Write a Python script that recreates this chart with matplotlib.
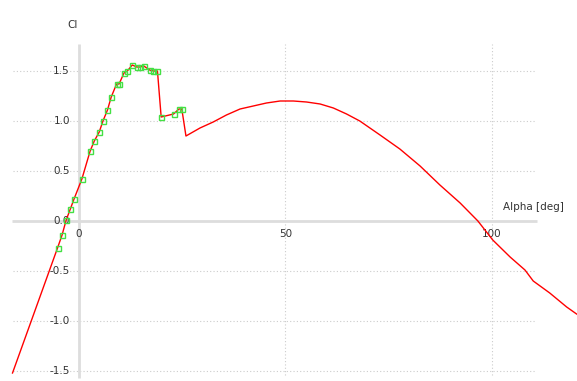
import numpy as np
import matplotlib
matplotlib.use("Agg")
from matplotlib import pyplot as plt

# polar points (measured)
alpha_pts = [-5.2, -4.1, -3.1, -2.1, -1.2, 0.7, 2.7, 3.7, 4.9, 5.8, 6.9, 7.8, 9.1, 9.7,
             10.9, 11.7, 12.9, 14.0, 14.8, 15.7, 17.1, 18.0, 19.0, 19.9, 22.9, 24.2, 24.9]
cl_pts = [-0.27, -0.14, 0.01, 0.12, 0.22, 0.42, 0.70, 0.80, 0.89, 1.00, 1.11, 1.24, 1.37, 1.37,
          1.48, 1.50, 1.56, 1.54, 1.54, 1.55, 1.51, 1.50, 1.50, 1.04, 1.07, 1.12, 1.12]

# extrapolated part of the polar
alpha_low = [-16.1]
cl_low = [-1.52]
alpha_high = [25.9, 29.3, 32.5, 35.7, 39.0, 42.2, 45.4, 48.7, 51.9, 55.1, 58.4, 61.6, 64.8,
              68.0, 72.9, 77.7, 82.6, 87.4, 92.3, 96.6, 100.2, 104.4, 108.0, 110.0, 114.0,
              118.1, 120.5]
cl_high = [0.85, 0.93, 0.99, 1.06, 1.12, 1.15, 1.18, 1.20, 1.20, 1.19, 1.17, 1.13, 1.07,
           1.00, 0.86, 0.72, 0.55, 0.36, 0.18, 0.00, -0.19, -0.36, -0.49, -0.60, -0.72,
           -0.86, -0.93]

xticks = [0, 50, 100]
yticks = [-1.5, -1.0, -0.5, 0.0, 0.5, 1.0, 1.5]

fig = plt.figure(figsize=(5.77, 3.81), dpi=100)
ax = fig.add_axes([0, 0, 1, 1])
ax.set_xlim(-19.13, 120.6)
ax.set_ylim(-1.60, 2.21)
ax.axis("off")

grid_col = "#cccccc"
axis_col = "#dddddd"
x_lo, x_hi = -16.0, 110.9
y_lo, y_hi = -1.54, 1.77

# grid
for y in yticks:
    if y != 0:
        ax.plot([x_lo, x_hi - 0.5], [y, y], color=grid_col, lw=0.8, ls=(0, (1, 2)), zorder=1)
for x in xticks[1:]:
    ax.plot([x, x], [y_lo, y_hi], color=grid_col, lw=0.8, ls=(0, (1, 2)), zorder=1)

# axes through the origin
ax.plot([x_lo - 0.3, x_hi], [0, 0], color=axis_col, lw=2, zorder=1, solid_capstyle="butt")
ax.plot([0, 0], [y_lo - 0.03, y_hi], color=axis_col, lw=2, zorder=1, solid_capstyle="butt")

# tick labels
for y in yticks:
    ax.text(-2.2, y, "%.1f" % y, ha="right", va="center", fontsize=7.5, color="#333333", zorder=2)
for x in xticks:
    ax.text(x, -0.13, str(x), ha="center", va="center", fontsize=7.5, color="#333333", zorder=2)

ax.text(-2.9, 1.96, "Cl", ha="left", va="center", fontsize=7.5, color="#333333")
ax.text(102.6, 0.14, "Alpha [deg]", ha="left", va="center", fontsize=7.5, color="#333333")

# curve
alpha_all = alpha_low + alpha_pts + alpha_high
cl_all = cl_low + cl_pts + cl_high
ax.plot(alpha_all, cl_all, color="#ff0000", lw=1, zorder=3, clip_on=False)
ax.plot(alpha_pts, cl_pts, ls="none", marker="s", ms=3.6, mfc="none", mec="#44e044",
        mew=1.0, zorder=4)

fig.savefig("out.png", dpi=100)
